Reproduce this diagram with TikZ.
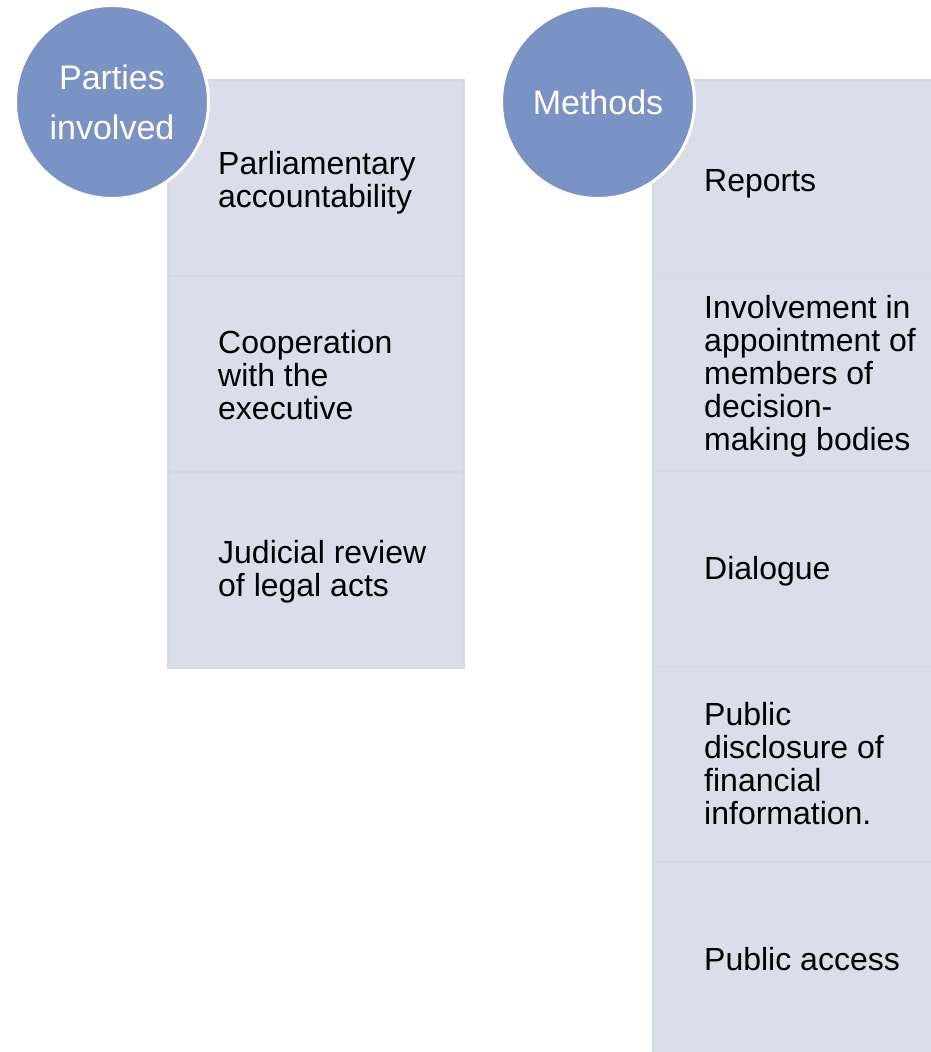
\documentclass[tikz,border=0pt]{standalone}
\usepackage{fontspec}
\setmainfont{Liberation Sans}
\definecolor{circfill}{HTML}{7B93C4}
\definecolor{boxfill}{HTML}{DADEEA}
\definecolor{boxline}{HTML}{D4D9E6}
\begin{document}
\begin{tikzpicture}[x=1pt,y=-1pt,
  rowbox/.style={fill=boxfill,draw=boxline,line width=1.5pt},
  headcirc/.style={circle,fill=circfill,draw=white,line width=3pt,minimum size=193pt,inner sep=0pt,text=white,align=center,font=\fontsize{34}{50}\selectfont},
  itemtext/.style={anchor=west,inner sep=0pt,align=left,font=\fontsize{32}{33}\selectfont,text=black}]
\useasboundingbox (0,0) rectangle (931,1052);
% left column
\foreach \t/\b in {80/276,276/472,472/668}{
  \draw[rowbox] (168,\t) rectangle (464,\b);
}
\node[itemtext] (l1) at (218,183) {Parliamentary\\accountability};
\node[itemtext] (l2) at (218,375) {Cooperation\\with the\\executive};
\node[itemtext] (l3) at (218,572) {Judicial review\\of legal acts};
% right column
\foreach \t/\b in {80/275.5,275.5/471,471/666.5,666.5/862,862/1060}{
  \draw[rowbox] (653,\t) rectangle (940,\b);
}
\node[itemtext] (r1) at (704,184) {Reports};
\node[itemtext] (r2) at (704,376) {Involvement in\\appointment of\\members of\\decision-\\making bodies};
\node[itemtext] (r3) at (704,571) {Dialogue};
\node[itemtext] (r4) at (704,764) {Public\\disclosure of\\financial\\information.};
\node[itemtext] (r5) at (704,959) {Public access};
% circles
\node[headcirc] (c1) at (112,102) {Parties\\involved};
\node[headcirc] (c2) at (598,102) {Methods};
\end{tikzpicture}
\end{document}
